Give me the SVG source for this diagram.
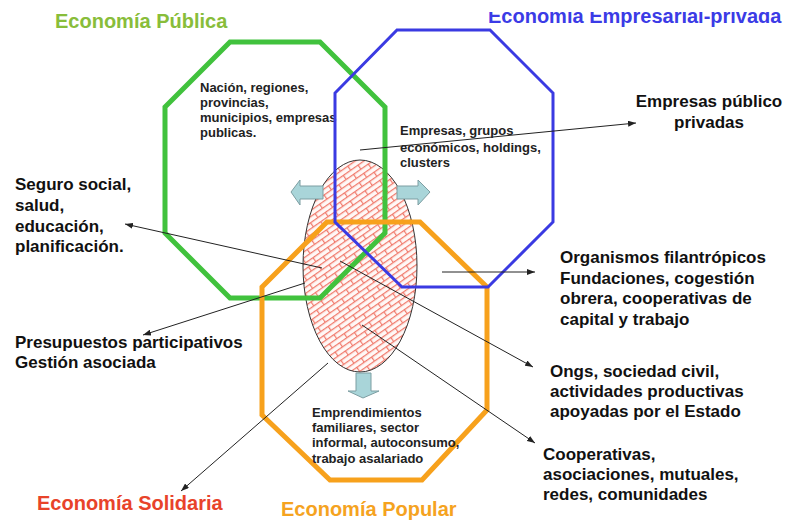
<svg xmlns="http://www.w3.org/2000/svg" width="786" height="520" viewBox="0 0 786 520">
<defs>
<style>
.oct{fill:none;stroke-linejoin:miter}
.green{stroke:#41c23d;stroke-width:5}
.blue{stroke:#3a3ae2;stroke-width:3}
.orange{stroke:#f7a11c;stroke-width:5}
.title{font-family:"Liberation Sans",Arial,sans-serif;font-weight:bold;font-size:20px}
.small{font-family:"Liberation Sans",Arial,sans-serif;font-weight:bold;font-size:13px;fill:#222}
.big{font-family:"Liberation Sans",Arial,sans-serif;font-weight:bold;font-size:17px;fill:#111}
.conn{stroke:#222;stroke-width:1;fill:none;marker-end:url(#ah)}
.blk{fill:#a9d5d9;stroke:#7d9ea2;stroke-width:1}
</style>
<marker id="ah" markerUnits="userSpaceOnUse" markerWidth="8" markerHeight="6" refX="8" refY="3" orient="auto">
<path d="M0,0 L8,3 L0,6 z" fill="#222"/>
</marker>
<pattern id="brick" width="18" height="10" patternUnits="userSpaceOnUse" patternTransform="rotate(-35)">
<rect width="18" height="10" fill="#fff8f6"/>
<path d="M0,0.6 H18 M0,5.6 H18 M0.6,0.6 V5.6 M9.6,5.6 V10" stroke="#f07a6c" stroke-width="1.2" fill="none"/>
</pattern>
<clipPath id="topclip"><rect x="0" y="12" width="786" height="40"/></clipPath>
</defs>
<rect width="786" height="520" fill="#ffffff"/>

<g id="core">
<ellipse cx="360" cy="266" rx="57" ry="106" fill="url(#brick)" stroke="#333" stroke-width="1"/>
</g>

<g id="economia-publica">
<polygon class="oct green" points="230,42 320,42 385,107 385,233 320,298 230,298 165,233 165,107"/>
<text class="title" x="55" y="28" fill="#88bd3a">Economía Pública</text>
<text class="small" x="200" y="92">Nación, regiones,</text>
<text class="small" x="200" y="107">provincias,</text>
<text class="small" x="200" y="122">municipios, empresas</text>
<text class="small" x="200" y="137">publicas.</text>
</g>

<g id="economia-popular">
<polygon class="oct orange" points="327,222 420,222 487,287 487,410 422,480 330,480 262,415 262,287"/>
<text class="title" x="281" y="516" fill="#f5a31f">Economía Popular</text>
<text class="small" x="312" y="417">Emprendimientos</text>
<text class="small" x="312" y="432">familiares, sector</text>
<text class="small" x="312" y="447">informal, autoconsumo,</text>
<text class="small" x="312" y="463">trabajo asalariado</text>
</g>

<g id="economia-empresarial">
<polygon class="oct blue" points="397,30 490,30 553,93 553,222 488,287 402,287 335,222 335,93"/>
<text class="title" x="488" y="23" fill="#3b3be6" clip-path="url(#topclip)">Economía Empresarial-privada</text>
<text class="small" x="400" y="135">Empresas, grupos</text>
<text class="small" x="400" y="152">económicos, holdings,</text>
<text class="small" x="400" y="167">clusters</text>
</g>

<g id="flow-arrows">
<polygon class="blk" points="291,192 300,180 300,186 323,186 323,199 300,199 300,205"/>
<polygon class="blk" points="430,192 418,180 418,186 397,186 397,199 418,199 418,205"/>
<polygon class="blk" points="356,373 371,373 371,391 379,391 363,398 348,391 356,391"/>
</g>

<g id="economia-solidaria">
<text class="title" x="37" y="510" fill="#e8432a">Economía Solidaria</text>
</g>

<g id="labels">
<g id="lbl-seguro">
<text class="big" x="15" y="190">Seguro social,</text>
<text class="big" x="15" y="211">salud,</text>
<text class="big" x="15" y="232">educación,</text>
<text class="big" x="15" y="252">planificación.</text>
</g>
<g id="lbl-presupuestos">
<text class="big" x="15" y="348">Presupuestos participativos</text>
<text class="big" x="15" y="368">Gestión asociada</text>
</g>
<g id="lbl-empresas-pp">
<text class="big" x="709" y="107" text-anchor="middle">Empresas público</text>
<text class="big" x="709" y="128" text-anchor="middle">privadas</text>
</g>
<g id="lbl-organismos">
<text class="big" x="560" y="263">Organismos filantrópicos</text>
<text class="big" x="560" y="284">Fundaciones, cogestión</text>
<text class="big" x="560" y="304">obrera, cooperativas de</text>
<text class="big" x="560" y="325">capital y trabajo</text>
</g>
<g id="lbl-ongs">
<text class="big" x="550" y="377">Ongs, sociedad civil,</text>
<text class="big" x="550" y="397">actividades productivas</text>
<text class="big" x="550" y="417">apoyadas por el Estado</text>
</g>
<g id="lbl-cooperativas">
<text class="big" x="543" y="460">Cooperativas,</text>
<text class="big" x="543" y="480">asociaciones, mutuales,</text>
<text class="big" x="543" y="500">redes, comunidades</text>
</g>
</g>

<g id="connectors">
<line class="conn" x1="360" y1="150" x2="636" y2="123"/>
<line class="conn" x1="322" y1="268" x2="125" y2="224"/>
<line class="conn" x1="305" y1="283" x2="143" y2="335"/>
<line class="conn" x1="340" y1="261" x2="533" y2="367"/>
<line class="conn" x1="362" y1="325" x2="535" y2="443"/>
<line class="conn" x1="328" y1="363" x2="181" y2="491"/>
<line class="conn" x1="442" y1="272" x2="535" y2="272"/>
</g>
</svg>
